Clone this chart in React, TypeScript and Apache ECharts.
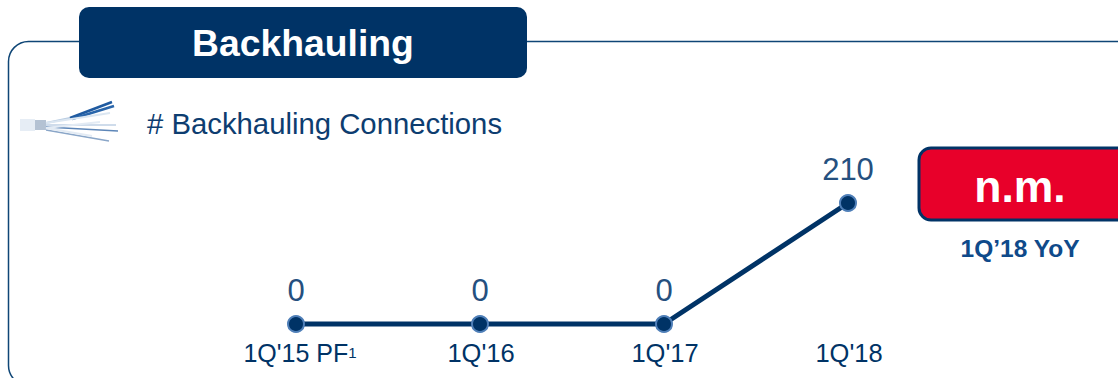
import React, { useEffect, useRef } from "react";
import * as echarts from "echarts";

const categories = ["1Q'15 PF", "1Q'16", "1Q'17", "1Q'18"];
const footnoteMarks = ["1", "", "", ""];
const connections = [0, 0, 0, 210];

const NAVY = "#003366";
const LABEL_BLUE = "#25507f";
const FONT = "'Liberation Sans', Arial, sans-serif";

// Cable icon: one stroke per conductor fanning out of the jacket
const conductors: [number, number, number, number, string, number][] = [
  [46, 123, 70, 118, "#b9cce2", 2],
  [70, 118, 112, 102, "#1f5aa0", 2.5],
  [72, 119, 114, 106, "#2a66ab", 2.5],
  [46, 123, 110, 113, "#dbe6f1", 2],
  [46, 125, 116, 125, "#cfdceb", 2],
  [46, 127, 118, 131, "#5d86b8", 1.5],
  [46, 130, 109, 141, "#8aa6c8", 1.5],
  [46, 128, 100, 122, "#e3ebf4", 2],
  [46, 128, 92, 136, "#e3ebf4", 2],
];

function cableIcon() {
  const strands = conductors.map(([x1, y1, x2, y2, stroke, lineWidth]) => ({
    type: "line",
    shape: { x1, y1, x2, y2 },
    style: { stroke, lineWidth },
    silent: true,
  }));
  return [
    { type: "rect", shape: { x: 20, y: 119, width: 15, height: 12 }, style: { fill: "#e6edf5" }, silent: true },
    { type: "rect", shape: { x: 35, y: 120, width: 11, height: 10 }, style: { fill: "#b4c2d3" }, silent: true },
    ...strands,
  ];
}

export default function App() {
  const ref = useRef<HTMLDivElement>(null);

  useEffect(() => {
    document.body.style.margin = "0";
    const chart = echarts.init(ref.current!, undefined, { renderer: "svg" });
    chart.setOption({
      animation: false,
      backgroundColor: "#ffffff",
      grid: { left: 204, right: 178, top: 203, bottom: 54 },
      xAxis: {
        type: "category",
        data: categories,
        axisLine: { show: false },
        axisTick: { show: false },
        axisLabel: {
          margin: 16,
          interval: 0,
          // the footnote mark hangs off the label, so the text is nudged to stay on its point
          formatter: (value: string, index: number) =>
            footnoteMarks[index] ? `{noted|${value}}{note|${footnoteMarks[index]}}` : `{main|${value}}`,
          rich: {
            main: { fontFamily: FONT, fontSize: 25.5, color: NAVY, padding: [0, 0, 0, 2] },
            noted: { fontFamily: FONT, fontSize: 25, color: NAVY, padding: [0, 0, 0, 8] },
            note: { fontFamily: FONT, fontSize: 15, color: NAVY, verticalAlign: "middle" },
          },
        },
      },
      yAxis: { type: "value", min: 0, max: 210, show: false },
      series: [
        {
          type: "line",
          data: connections,
          clip: false,
          symbol: "circle",
          symbolSize: 16,
          lineStyle: { color: NAVY, width: 5 },
          itemStyle: { color: NAVY, borderColor: "#4f7fb8", borderWidth: 2 },
          label: {
            show: true,
            position: "top",
            distance: 9,
            fontFamily: FONT,
            fontSize: 31,
            color: LABEL_BLUE,
          },
        },
      ],
      graphic: [
        {
          type: "rect",
          z: 0,
          shape: { x: 8.5, y: 41.5, width: 1200, height: 344, r: 20 },
          style: { fill: "none", stroke: "#0f4676", lineWidth: 1.5 },
          silent: true,
        },
        {
          type: "rect",
          z: 5,
          shape: { x: 79, y: 7, width: 448, height: 71, r: 10 },
          style: { fill: NAVY },
        },
        {
          type: "text",
          z: 6,
          style: {
            x: 303, y: 43, text: "Backhauling", fill: "#ffffff",
            font: `bold 37.3px ${FONT}`, align: "center", verticalAlign: "middle",
          },
        },
        ...cableIcon(),
        {
          type: "text",
          style: {
            x: 147, y: 123, text: "# Backhauling Connections", fill: "#0d3d70",
            font: `29.3px ${FONT}`, align: "left", verticalAlign: "middle",
          },
        },
        {
          type: "rect",
          z: 5,
          shape: { x: 919, y: 148, width: 240, height: 72, r: 12 },
          style: { fill: "#e8002a", stroke: NAVY, lineWidth: 3 },
        },
        {
          type: "text",
          z: 6,
          style: {
            x: 1020, y: 186, text: "n.m.", fill: "#ffffff",
            font: `bold 44.5px ${FONT}`, align: "center", verticalAlign: "middle",
          },
        },
        {
          type: "text",
          style: {
            x: 1020, y: 248, text: "1Q\u201918 YoY", fill: "#0f4a8a",
            font: `bold 24.5px ${FONT}`, align: "center", verticalAlign: "middle",
          },
        },
      ],
    });
    return () => chart.dispose();
  }, []);

  return <div ref={ref} style={{ width: 1118, height: 378 }} />;
}
